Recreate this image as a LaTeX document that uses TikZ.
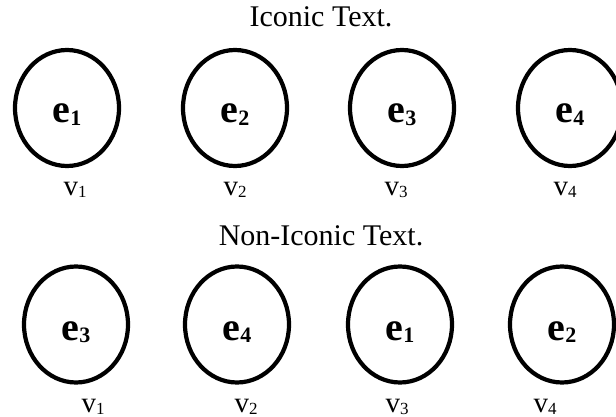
\documentclass[tikz,border=0pt]{standalone}
\usepackage{fontspec}
\setmainfont{Liberation Serif}
\usetikzlibrary{shapes.geometric}
\newcommand{\elab}[1]{{\fontsize{40}{40}\selectfont\bfseries e}\raisebox{-2.5pt}{\fontsize{22}{22}\selectfont\bfseries #1}}
\newcommand{\vlab}[1]{{\fontsize{29}{29}\selectfont v}\raisebox{-2pt}{\fontsize{17}{17}\selectfont #1}}
\tikzset{
  ell/.style={draw=black, line width=4.2pt, ellipse, minimum width=104pt, minimum height=116pt, inner sep=0pt},
  ltext/.style={anchor=base, inner sep=0pt},
  title/.style={anchor=base, inner sep=0pt, font=\fontsize{30}{30}\selectfont}
}
\begin{document}
\begin{tikzpicture}[x=1pt, y=-1pt]
\path[use as bounding box, clip] (0,0) rectangle (616,417);
% top row
\node[title] (t1) at (321,26.5) {Iconic Text.};
\node[ell] (a1) at (67,108) {};
\node[ell] (a2) at (235,108) {};
\node[ell] (a3) at (402,108) {};
\node[ell] (a4) at (570,108) {};
\node[ltext] (ae1) at (67,123) {\elab{1}};
\node[ltext] (ae2) at (235,123) {\elab{2}};
\node[ltext] (ae3) at (402,123) {\elab{3}};
\node[ltext] (ae4) at (570,123) {\elab{4}};
\node[ltext] (av1) at (75,195) {\vlab{1}};
\node[ltext] (av2) at (235,195) {\vlab{2}};
\node[ltext] (av3) at (396,195) {\vlab{3}};
\node[ltext] (av4) at (565,195) {\vlab{4}};
% bottom row
\node[title] (t2) at (321,245) {Non-Iconic Text.};
\node[ell] (b1) at (76,324.5) {};
\node[ell] (b2) at (237,324.5) {};
\node[ell] (b3) at (400,324.5) {};
\node[ell] (b4) at (562,324.5) {};
\node[ltext] (be1) at (76,340) {\elab{3}};
\node[ltext] (be2) at (237,340) {\elab{4}};
\node[ltext] (be3) at (400,340) {\elab{1}};
\node[ltext] (be4) at (562,340) {\elab{2}};
\node[ltext] (bv1) at (93,412) {\vlab{1}};
\node[ltext] (bv2) at (246,412) {\vlab{2}};
\node[ltext] (bv3) at (397,412) {\vlab{3}};
\node[ltext] (bv4) at (545,412) {\vlab{4}};
\end{tikzpicture}
\end{document}
